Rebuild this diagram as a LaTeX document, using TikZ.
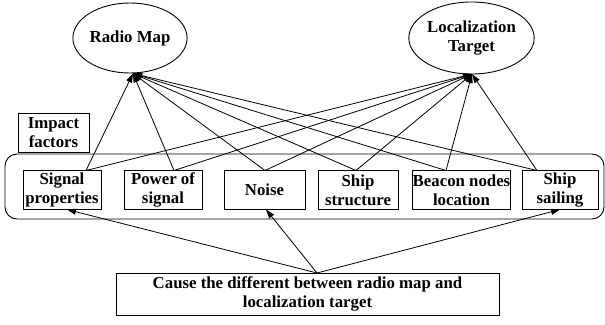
\documentclass[tikz,border=0pt]{standalone}
\usepackage{fontspec}
\setmainfont{Liberation Serif}
\usetikzlibrary{shapes.geometric,arrows.meta}
\begin{document}
\begin{tikzpicture}[x=1pt,y=-1pt,
  txt/.style={font=\bfseries\fontsize{16.8}{19}\selectfont, align=center},
  fbox/.style={txt, draw, line width=0.9pt, inner sep=0pt, minimum height=39pt},
  oval/.style={txt, ellipse, draw, line width=0.9pt, inner sep=0pt},
  conn/.style={line width=0.8pt, -{Triangle[length=9pt,width=6pt]}},
  grpbox/.style={draw, line width=0.9pt, rounded corners=12pt, inner sep=0pt}]
\useasboundingbox (0,0) rectangle (605,324);
% top ellipses
\node[oval, minimum width=110pt, minimum height=70pt] (rm) at (130,38) {Radio Map};
\node[oval, minimum width=111pt, minimum height=72pt] (lt) at (471.5,38) {Localization\\Target};
% group frame
\node[grpbox, minimum width=599pt, minimum height=65pt] (grp) at (304.5,186.5) {};
\node[fbox, minimum width=71pt] (imp) at (53.5,132.5) {Impact\\factors};
% factor boxes
\node[fbox, minimum width=78pt] (sp) at (62,190) {Signal\\properties};
\node[fbox, minimum width=78pt] (ps) at (163,190) {Power of\\signal};
\node[fbox, minimum width=81pt] (ns) at (264.5,190) {Noise};
\node[fbox, minimum width=80pt] (ss) at (358,190) {Ship\\structure};
\node[fbox, minimum width=97pt] (bn) at (461.5,190) {Beacon nodes\\location};
\node[fbox, minimum width=76pt] (sa) at (560,190) {Ship\\sailing};
% bottom box
\node[fbox, minimum width=383pt, minimum height=42pt] (cause) at (307.5,294) {Cause the different between radio map and\\localization target};
% connection points
\coordinate (rmin) at (133,73.5);
\coordinate (ltin) at (472,74);
\coordinate (spt) at (86,170.5);
\coordinate (pst) at (174,170.5);
\coordinate (nst) at (265,170.5);
\coordinate (sst) at (356,170.5);
\coordinate (bnt) at (446,170.5);
\coordinate (sat) at (537,170.5);
\coordinate (cst) at (317,273);
\coordinate (spb) at (67,209.5);
\coordinate (nsb) at (266,209.5);
\coordinate (sab) at (560,209.5);
% connectors up
\foreach \s in {spt,pst,nst,sst,bnt,sat}{
  \draw[conn] (\s) -- (rmin);
  \draw[conn] (\s) -- (ltin);
}
% connectors from cause
\draw[conn] (cst) -- (spb);
\draw[conn] (cst) -- (nsb);
\draw[conn] (cst) -- (sab);
\end{tikzpicture}
\end{document}
